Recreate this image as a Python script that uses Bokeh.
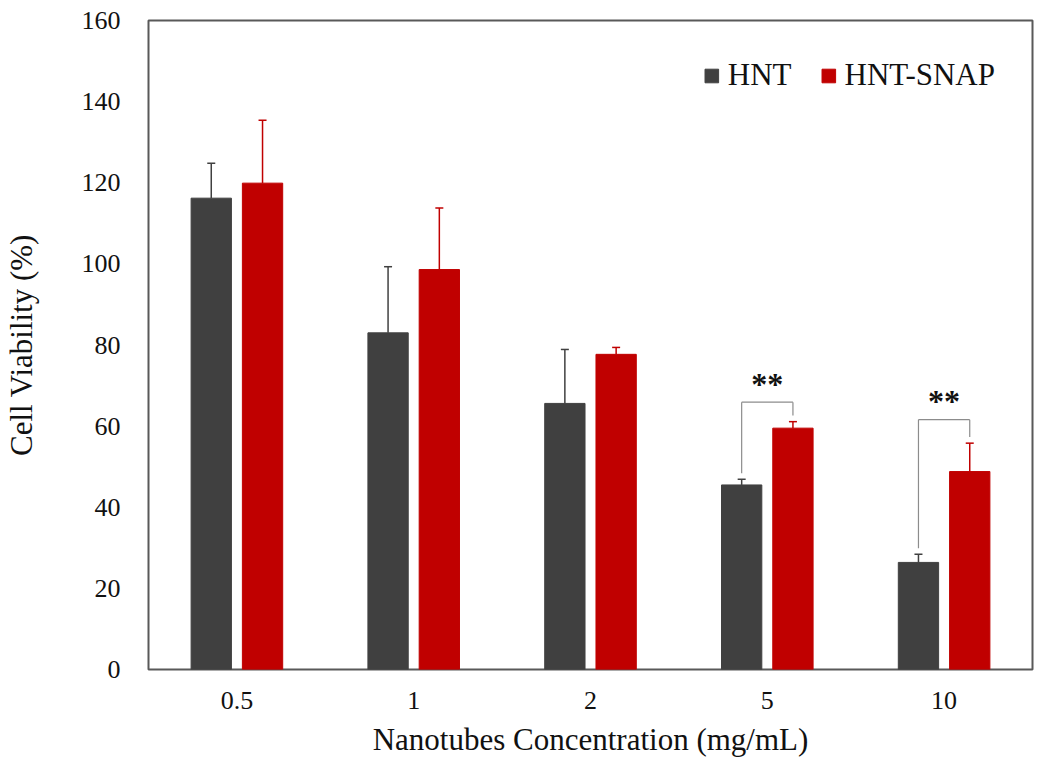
from bokeh.plotting import figure
from bokeh.models import ColumnDataSource, FactorRange, Whisker, TeeHead, Legend, LegendItem
from bokeh.transform import dodge
from bokeh.core.properties import value
from bokeh.embed import file_html
from bokeh.resources import INLINE

# ---- data ----
concentrations = ["0.5", "1", "2", "5", "10"]
hnt = [116.2, 83.0, 65.6, 45.5, 26.4]
hnt_err = [8.6, 16.3, 13.3, 1.4, 2.0]
snap = [119.9, 98.6, 77.7, 59.5, 48.8]
snap_err = [15.5, 15.2, 1.7, 1.6, 7.0]
sig_cats = ["5", "10"]
sig_labels = ["**", "**"]
sig_height = [65.9, 61.6]

y_ticks = [0, 20, 40, 60, 80, 100, 120, 140, 160]

FONT = "Liberation Serif"
C_HNT = "#404040"
C_SNAP = "#C00000"
OFF = 0.145
BW = 0.228

src = ColumnDataSource(dict(
    x=concentrations,
    hnt=hnt,
    hnt_top=[v + e for v, e in zip(hnt, hnt_err)],
    snap=snap,
    snap_top=[v + e for v, e in zip(snap, snap_err)],
))

p = figure(x_range=FactorRange(*concentrations), y_range=(0, 160),
           width=1034, height=760, output_backend="svg", toolbar_location=None,
           min_border_left=146, min_border_right=2, min_border_top=20, min_border_bottom=91)

b1 = p.vbar(x=dodge("x", -OFF, range=p.x_range), top="hnt", width=BW, source=src,
            fill_color=C_HNT, line_color=C_HNT)
b2 = p.vbar(x=dodge("x", OFF, range=p.x_range), top="snap", width=BW, source=src,
            fill_color=C_SNAP, line_color=C_SNAP)

w1 = Whisker(base=dodge("x", -OFF, range=p.x_range), lower="hnt", upper="hnt_top", source=src,
             line_color=C_HNT, line_width=1.5, lower_head=None,
             upper_head=TeeHead(size=8, line_color=C_HNT, line_width=1.5))
w2 = Whisker(base=dodge("x", OFF, range=p.x_range), lower="snap", upper="snap_top", source=src,
             line_color=C_SNAP, line_width=1.5, lower_head=None,
             upper_head=TeeHead(size=8, line_color=C_SNAP, line_width=1.5))
p.add_layout(w1)
p.add_layout(w2)

# significance brackets
idx = [concentrations.index(c) for c in sig_cats]
gap = 1.5
bsrc = ColumnDataSource(dict(
    x=sig_cats,
    y=sig_height,
    left_bottom=[hnt[i] + hnt_err[i] + gap for i in idx],
    right_bottom=[snap[i] + snap_err[i] + gap for i in idx],
    ty=[h + 4.6 for h in sig_height],
    label=sig_labels,
))
BC = "#8c8c8c"
p.segment(x0=dodge("x", -OFF, range=p.x_range), x1=dodge("x", OFF, range=p.x_range),
          y0="y", y1="y", source=bsrc, line_color=BC, line_width=1.2)
p.segment(x0=dodge("x", -OFF, range=p.x_range), x1=dodge("x", -OFF, range=p.x_range),
          y0="left_bottom", y1="y", source=bsrc, line_color=BC, line_width=1.2)
p.segment(x0=dodge("x", OFF, range=p.x_range), x1=dodge("x", OFF, range=p.x_range),
          y0="right_bottom", y1="y", source=bsrc, line_color=BC, line_width=1.2)
p.text(x="x", y="ty", text="label", source=bsrc,
       text_font=value(FONT), text_font_size="32px", text_font_style="bold",
       text_align="center", text_baseline="middle", text_color="#111111")

# legend
legend = Legend(items=[LegendItem(label="HNT", renderers=[b1]),
                       LegendItem(label="HNT-SNAP", renderers=[b2])],
                orientation="horizontal", location="top_right",
                label_text_font=FONT, label_text_font_size="31px",
                label_text_color="#111111",
                glyph_width=17, glyph_height=17, spacing=28, label_standoff=8,
                border_line_color=None, background_fill_alpha=0,
                margin=37, padding=6)
p.add_layout(legend)

# axes styling
p.xgrid.grid_line_color = None
p.ygrid.grid_line_color = None
p.outline_line_color = "#595959"
p.outline_line_width = 2
p.yaxis.ticker = y_ticks
for ax in (p.xaxis, p.yaxis):
    ax.axis_line_color = None
    ax.major_tick_line_color = None
    ax.minor_tick_line_color = None
    ax.major_label_text_font = FONT
    ax.major_label_text_font_size = "26px"
    ax.major_label_text_color = "#111111"
    ax.axis_label_text_font = FONT
    ax.axis_label_text_font_size = "31px"
    ax.axis_label_text_font_style = "normal"
    ax.axis_label_text_color = "#111111"
p.yaxis.axis_label = "Cell Viability (%)"
p.xaxis.axis_label = "Nanotubes Concentration (mg/mL)"
p.yaxis.major_label_standoff = 22
p.yaxis.axis_label_standoff = 40
p.xaxis.major_label_standoff = 16
p.xaxis.axis_label_standoff = 10
p.x_range.group_padding = 0

open("out.html", "w").write(file_html(p, INLINE))
